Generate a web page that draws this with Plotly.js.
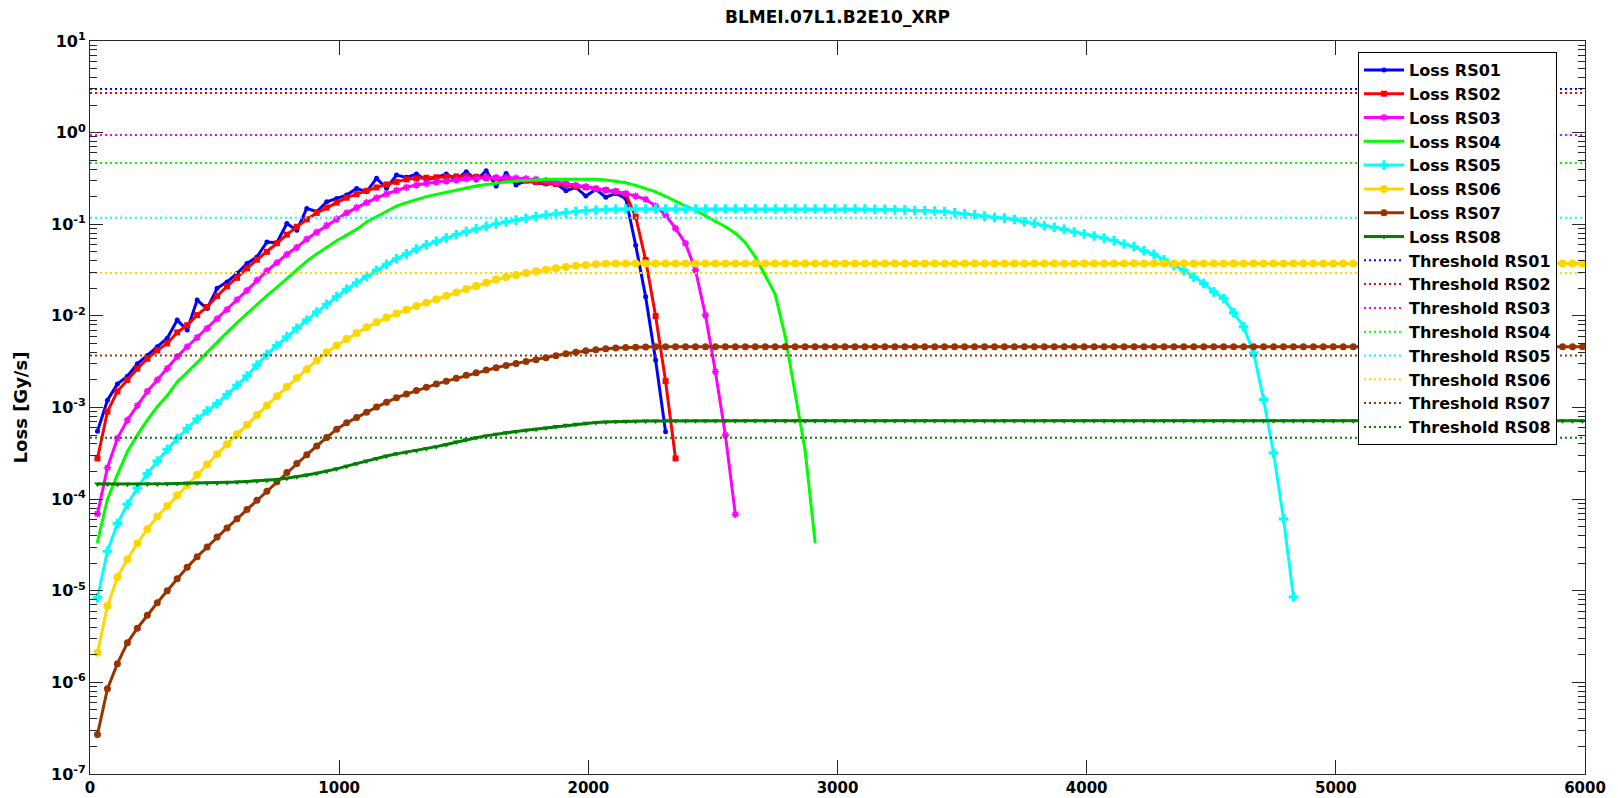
<!DOCTYPE html>
<html>
<head>
<meta charset="utf-8">
<script src="https://cdn.plot.ly/plotly-3.0.1.min.js"></script>
<style>html,body{margin:0;padding:0;background:#fff;}#chart{width:1618px;height:798px;}</style>
</head>
<body>
<div id="chart"></div>
<script>
// Sample times (x axis)
const time = [
30,70,110,150,190,230,270,310,350,390,
430,470,510,550,590,630,670,710,750,790,
830,870,910,950,990,1030,1070,1110,1150,1190,
1230,1270,1310,1350,1390,1430,1470,1510,1550,1590,
1630,1670,1710,1750,1790,1830,1870,1910,1950,1990,
2030,2070,2110,2150,2190,2230,2270,2310,2350,2390,
2430,2470,2510,2550,2590,2630,2670,2710,2750,2790,
2830,2870,2910,2950,2990,3030,3070,3110,3150,3190,
3230,3270,3310,3350,3390,3430,3470,3510,3550,3590,
3630,3670,3710,3750,3790,3830,3870,3910,3950,3990,
4030,4070,4110,4150,4190,4230,4270,4310,4350,4390,
4430,4470,4510,4550,4590,4630,4670,4710,4750,4790,
4830,4870,4910,4950,4990,5030,5070,5110,5150,5190,
5230,5270,5310,5350,5390,5430,5470,5510,5550,5590,
5630,5670,5710,5750,5790,5830,5870,5910,5950,5990];

const lossRS01 = [
5.5e-4,1.2e-3,1.8e-3,2.2e-3,3.0e-3,3.7e-3,4.6e-3,5.7e-3,9.0e-3,7.0e-3,
1.49e-2,1.2e-2,2.0e-2,2.35e-2,2.9e-2,3.73e-2,4.4e-2,6.4e-2,6.3e-2,0.102,
0.086,0.149,0.137,0.176,0.191,0.208,0.246,0.226,0.317,0.247,
0.344,0.325,0.353,0.304,0.325,0.353,0.309,0.375,0.304,0.384,
0.261,0.359,0.268,0.299,0.284,0.275,0.279,0.232,0.253,0.203,
0.240,0.197,0.217,0.192,0.059,0.0162,0.00329,5.43e-4];

const lossRS02 = [
2.78e-4,9.0e-4,1.5e-3,2.0e-3,2.65e-3,3.4e-3,4.2e-3,5.0e-3,6.6e-3,7.9e-3,
1.02e-2,1.25e-2,1.65e-2,2.1e-2,2.6e-2,3.3e-2,4.1e-2,5.0e-2,6.2e-2,7.7e-2,
9.4e-2,0.113,0.133,0.152,0.172,0.195,0.213,0.232,0.252,0.272,
0.29,0.309,0.317,0.322,0.325,0.330,0.333,0.336,0.330,0.325,
0.319,0.314,0.306,0.299,0.289,0.282,0.275,0.268,0.259,0.253,
0.244,0.236,0.228,0.214,0.121,0.0407,0.00995,0.00194,2.78e-4];

const lossRS03 = [
6.9e-5,2.2e-4,4.6e-4,7.3e-4,1.05e-3,1.5e-3,2.0e-3,2.65e-3,3.6e-3,4.6e-3,
5.8e-3,7.3e-3,9.3e-3,1.17e-2,1.5e-2,1.9e-2,2.45e-2,3.1e-2,3.8e-2,4.7e-2,
5.6e-2,6.9e-2,8.2e-2,9.7e-2,0.114,0.133,0.152,0.172,0.194,0.214,
0.234,0.253,0.268,0.279,0.289,0.296,0.304,0.312,0.317,0.319,
0.322,0.322,0.319,0.314,0.309,0.299,0.289,0.279,0.268,0.257,
0.244,0.236,0.228,0.217,0.203,0.187,0.158,0.126,0.0901,0.0618,
0.0316,0.0102,0.00246,5.0e-4,6.8e-5];

const lossRS04 = [
3.4e-5,1.0e-4,1.85e-4,3.3e-4,5.0e-4,7.3e-4,1.02e-3,1.35e-3,1.9e-3,2.4e-3,
3.1e-3,4.0e-3,5.2e-3,6.6e-3,8.4e-3,1.06e-2,1.34e-2,1.66e-2,2.05e-2,2.55e-2,
3.2e-2,3.95e-2,4.75e-2,5.6e-2,6.6e-2,7.6e-2,8.8e-2,0.106,0.121,0.138,
0.158,0.172,0.186,0.2,0.212,0.224,0.236,0.25,0.262,0.272,
0.282,0.29,0.297,0.302,0.305,0.308,0.31,0.311,0.311,0.31,
0.309,0.304,0.296,0.284,0.266,0.247,0.226,0.202,0.178,0.158,
0.142,0.124,0.107,0.094,0.08,0.063,0.044,0.028,0.0172,6.0e-3,
1.5e-3,3.4e-4,3.4e-5];

const lossRS05 = [
8.4e-6,2.7e-5,5.4e-5,8.8e-5,1.32e-4,1.9e-4,2.6e-4,3.5e-4,4.6e-4,5.9e-4,
7.5e-4,9.2e-4,1.1e-3,1.38e-3,1.75e-3,2.2e-3,2.9e-3,3.8e-3,4.75e-3,5.9e-3,
7.3e-3,9.0e-3,1.1e-2,1.34e-2,1.62e-2,1.95e-2,2.3e-2,2.7e-2,3.15e-2,3.65e-2,
4.2e-2,4.75e-2,5.35e-2,5.95e-2,6.5e-2,7.1e-2,7.7e-2,8.3e-2,8.9e-2,9.5e-2,
0.101,0.106,0.111,0.116,0.121,0.126,0.13,0.134,0.138,0.141,
0.143,0.145,0.146,0.1466,0.1466,0.1466,0.1466,0.1466,0.1466,0.1466,
0.1466,0.1466,0.1466,0.1466,0.1466,0.1466,0.1466,0.1466,0.1466,0.1466,
0.1466,0.1466,0.1466,0.1466,0.1466,0.1466,0.1466,0.1466,0.1453,0.1453,
0.1436,0.1436,0.1413,0.1405,0.1394,0.1379,0.1334,0.1301,0.1269,0.1227,
0.1186,0.1167,0.1128,0.1064,0.102,0.0963,0.0925,0.088,0.0822,0.0782,
0.0743,0.0706,0.0661,0.0608,0.0568,0.0514,0.047,0.041,0.0355,0.0315,
0.0265,0.0226,0.0183,0.0155,0.0108,0.0076,0.00395,0.00122,3.19e-4,6.1e-5,
8.55e-6];

const lossRS06 = [
2.1e-6,6.8e-6,1.4e-5,2.2e-5,3.3e-5,4.7e-5,6.45e-5,8.4e-5,1.1e-4,1.43e-4,
1.85e-4,2.39e-4,3.09e-4,3.98e-4,5.1e-4,6.5e-4,8.3e-4,1.05e-3,1.33e-3,1.68e-3,
2.1e-3,2.62e-3,3.26e-3,4.0e-3,4.75e-3,5.6e-3,6.5e-3,7.5e-3,8.5e-3,9.6e-3,
1.06e-2,1.17e-2,1.28e-2,1.39e-2,1.52e-2,1.66e-2,1.8e-2,1.96e-2,2.12e-2,2.3e-2,
2.5e-2,2.66e-2,2.8e-2,2.94e-2,3.06e-2,3.18e-2,3.3e-2,3.42e-2,3.52e-2,3.6e-2,
3.66e-2,3.7e-2,3.72e-2,3.72e-2,3.72e-2,3.72e-2,3.72e-2,3.72e-2,3.72e-2,3.72e-2,
3.72e-2,3.72e-2,3.72e-2,3.72e-2,3.72e-2,3.72e-2,3.72e-2,3.72e-2,3.72e-2,3.72e-2,
3.72e-2,3.72e-2,3.72e-2,3.72e-2,3.72e-2,3.72e-2,3.72e-2,3.72e-2,3.72e-2,3.72e-2,
3.72e-2,3.72e-2,3.72e-2,3.72e-2,3.72e-2,3.72e-2,3.72e-2,3.72e-2,3.72e-2,3.72e-2,
3.72e-2,3.72e-2,3.72e-2,3.72e-2,3.72e-2,3.72e-2,3.72e-2,3.72e-2,3.72e-2,3.72e-2,
3.72e-2,3.72e-2,3.72e-2,3.72e-2,3.72e-2,3.72e-2,3.72e-2,3.72e-2,3.72e-2,3.72e-2,
3.72e-2,3.72e-2,3.72e-2,3.72e-2,3.72e-2,3.72e-2,3.72e-2,3.72e-2,3.72e-2,3.72e-2,
3.72e-2,3.72e-2,3.72e-2,3.72e-2,3.72e-2,3.72e-2,3.72e-2,3.72e-2,3.72e-2,3.72e-2,
3.72e-2,3.72e-2,3.72e-2,3.72e-2,3.72e-2,3.72e-2,3.72e-2,3.72e-2,3.72e-2,3.72e-2,
3.72e-2,3.72e-2,3.72e-2,3.72e-2,3.72e-2,3.72e-2,3.72e-2,3.72e-2,3.72e-2,3.72e-2];

const lossRS07 = [
2.7e-7,8.5e-7,1.6e-6,2.7e-6,3.9e-6,5.4e-6,7.4e-6,1.0e-5,1.35e-5,1.8e-5,
2.35e-5,3.0e-5,3.85e-5,4.85e-5,6.1e-5,7.7e-5,9.7e-5,1.22e-4,1.55e-4,1.95e-4,
2.45e-4,3.05e-4,3.8e-4,4.7e-4,5.8e-4,6.8e-4,7.8e-4,8.9e-4,1.01e-3,1.14e-3,
1.28e-3,1.4e-3,1.53e-3,1.66e-3,1.8e-3,1.94e-3,2.08e-3,2.25e-3,2.4e-3,2.56e-3,
2.72e-3,2.88e-3,3.03e-3,3.18e-3,3.33e-3,3.5e-3,3.68e-3,3.87e-3,4.02e-3,4.15e-3,
4.27e-3,4.37e-3,4.45e-3,4.51e-3,4.55e-3,4.58e-3,4.6e-3,4.6e-3,4.6e-3,4.6e-3,
4.6e-3,4.6e-3,4.6e-3,4.6e-3,4.6e-3,4.6e-3,4.6e-3,4.6e-3,4.6e-3,4.6e-3,
4.6e-3,4.6e-3,4.6e-3,4.6e-3,4.6e-3,4.6e-3,4.6e-3,4.6e-3,4.6e-3,4.6e-3,
4.6e-3,4.6e-3,4.6e-3,4.6e-3,4.6e-3,4.6e-3,4.6e-3,4.6e-3,4.6e-3,4.6e-3,
4.6e-3,4.6e-3,4.6e-3,4.6e-3,4.6e-3,4.6e-3,4.6e-3,4.6e-3,4.6e-3,4.6e-3,
4.6e-3,4.6e-3,4.6e-3,4.6e-3,4.6e-3,4.6e-3,4.6e-3,4.6e-3,4.6e-3,4.6e-3,
4.6e-3,4.6e-3,4.6e-3,4.6e-3,4.6e-3,4.6e-3,4.6e-3,4.6e-3,4.6e-3,4.6e-3,
4.6e-3,4.6e-3,4.6e-3,4.6e-3,4.6e-3,4.6e-3,4.6e-3,4.6e-3,4.6e-3,4.6e-3,
4.6e-3,4.6e-3,4.6e-3,4.6e-3,4.6e-3,4.6e-3,4.6e-3,4.6e-3,4.6e-3,4.6e-3,
4.6e-3,4.6e-3,4.6e-3,4.6e-3,4.6e-3,4.6e-3,4.6e-3,4.6e-3,4.6e-3,4.6e-3];

const lossRS08 = [
1.46e-4,1.46e-4,1.45e-4,1.45e-4,1.45e-4,1.46e-4,1.46e-4,1.47e-4,1.48e-4,1.49e-4,
1.5e-4,1.5e-4,1.5e-4,1.52e-4,1.54e-4,1.56e-4,1.58e-4,1.61e-4,1.64e-4,1.69e-4,
1.75e-4,1.83e-4,1.92e-4,2.02e-4,2.14e-4,2.29e-4,2.45e-4,2.6e-4,2.77e-4,2.95e-4,
3.12e-4,3.25e-4,3.4e-4,3.56e-4,3.74e-4,3.95e-4,4.2e-4,4.45e-4,4.68e-4,4.9e-4,
5.1e-4,5.3e-4,5.48e-4,5.64e-4,5.8e-4,5.98e-4,6.2e-4,6.4e-4,6.58e-4,6.72e-4,
6.85e-4,6.95e-4,7.02e-4,7.07e-4,7.1e-4,7.12e-4,7.14e-4,7.15e-4,7.15e-4,7.15e-4,
7.15e-4,7.15e-4,7.15e-4,7.15e-4,7.15e-4,7.15e-4,7.15e-4,7.15e-4,7.15e-4,7.15e-4,
7.15e-4,7.15e-4,7.15e-4,7.15e-4,7.15e-4,7.15e-4,7.15e-4,7.15e-4,7.15e-4,7.15e-4,
7.15e-4,7.15e-4,7.15e-4,7.15e-4,7.15e-4,7.15e-4,7.15e-4,7.15e-4,7.15e-4,7.15e-4,
7.15e-4,7.15e-4,7.15e-4,7.15e-4,7.15e-4,7.15e-4,7.15e-4,7.15e-4,7.15e-4,7.15e-4,
7.15e-4,7.15e-4,7.15e-4,7.15e-4,7.15e-4,7.15e-4,7.15e-4,7.15e-4,7.15e-4,7.15e-4,
7.15e-4,7.15e-4,7.15e-4,7.15e-4,7.15e-4,7.15e-4,7.15e-4,7.15e-4,7.15e-4,7.15e-4,
7.15e-4,7.15e-4,7.15e-4,7.15e-4,7.15e-4,7.15e-4,7.15e-4,7.15e-4,7.15e-4,7.15e-4,
7.15e-4,7.15e-4,7.15e-4,7.15e-4,7.15e-4,7.15e-4,7.15e-4,7.15e-4,7.15e-4,7.15e-4,
7.15e-4,7.15e-4,7.15e-4,7.15e-4,7.15e-4,7.15e-4,7.15e-4,7.15e-4,7.15e-4,7.15e-4];

// Thresholds per running sum
const thresholdNames = ['RS01','RS02','RS03','RS04','RS05','RS06','RS07','RS08'];
const thresholdValues = [3.0, 2.7, 0.94, 0.466, 0.1178, 0.0294, 0.0037, 4.67e-4];
const thresholdSpan = [0, 6000];

// Tick labels
const yTickVals = [1e-7,1e-6,1e-5,1e-4,1e-3,1e-2,1e-1,1,10];
const yTickText = ['10<sup>-7</sup>','10<sup>-6</sup>','10<sup>-5</sup>','10<sup>-4</sup>','10<sup>-3</sup>','10<sup>-2</sup>','10<sup>-1</sup>','10<sup>0</sup>','10<sup>1</sup>'];
const xTickVals = [0,1000,2000,3000,4000,5000,6000];

const colors = ['#0000FF','#FF0000','#FF00FF','#00FF00','#00FFFF','#FFD700','#993300','#008000'];
const lossSeries = [lossRS01,lossRS02,lossRS03,lossRS04,lossRS05,lossRS06,lossRS07,lossRS08];
const markerStyle = [
  {symbol:'circle', size:5},
  {symbol:'square', size:6},
  {symbol:'asterisk-open', size:6, line:{width:1.6}},
  {symbol:'circle', size:3},
  {symbol:'cross', size:8},
  {symbol:'circle', size:8},
  {symbol:'circle', size:7},
  {symbol:'triangle-down', size:6}
];

const FONT = 'DejaVu Sans, Arial, sans-serif';
const traces = [];
lossSeries.forEach((vals, i) => {
  const m = Object.assign({color: colors[i]}, markerStyle[i]);
  if (m.line) m.line = Object.assign({color: colors[i]}, m.line);
  traces.push({
    type:'scatter', mode:'lines+markers',
    name:'Loss ' + thresholdNames[i],
    x: time.slice(0, vals.length), y: vals,
    line:{color: colors[i], width:3},
    marker: m
  });
});
thresholdValues.forEach((v, i) => {
  traces.push({
    type:'scatter', mode:'lines',
    name:'Threshold ' + thresholdNames[i],
    x: thresholdSpan, y: [v, v],
    line:{color: colors[i], width:2, dash:'2px,3px'}
  });
});

const minorVals = [];
for (let e = -7; e <= 0; e++) for (let m = 2; m <= 9; m++) minorVals.push(m * Math.pow(10, e));

const axisColor = '#262626';
const layout = {
  width:1618, height:798,
  margin:{l:90, r:33, t:41, b:24, pad:0},
  paper_bgcolor:'#ffffff', plot_bgcolor:'#ffffff',
  font:{family:FONT, weight:'bold', color:'#000'},
  showlegend:true,
  title:{text:'BLMEI.07L1.B2E10_XRP', font:{family:FONT, size:17, weight:'bold', color:'#000'},
         x:0.5, xref:'paper', xanchor:'center', y:1-17/798, yref:'container', yanchor:'middle'},
  xaxis:{range:[0,6000], tickmode:'array', tickvals:xTickVals,
         ticks:'inside', ticklen:14, tickwidth:1, tickcolor:axisColor,
         showline:true, linecolor:axisColor, linewidth:1, mirror:'ticks',
         showgrid:false, zeroline:false,
         tickfont:{family:FONT, size:15, weight:'bold', color:'#000'}},
  yaxis:{type:'log', range:[-7,1], tickmode:'array', tickvals:yTickVals, ticktext:yTickText,
         ticks:'inside', ticklen:13, tickwidth:1, tickcolor:axisColor,
         showline:true, linecolor:axisColor, linewidth:1, mirror:'ticks',
         showgrid:false, zeroline:false,
         minor:{tickmode:'array', tickvals:minorVals, ticks:'inside', ticklen:7, tickcolor:axisColor, showgrid:false},
         tickfont:{family:FONT, size:16, weight:'bold', color:'#000'},
         title:{text:'Loss [Gy/s]', font:{family:FONT, size:18, weight:'bold', color:'#000'}, standoff:18}},
  legend:{x:(1358-90)/1495, y:(774-52)/733, xanchor:'left', yanchor:'top',
          bgcolor:'#ffffff', bordercolor:'#000000', borderwidth:1,
          font:{family:FONT, size:16, weight:'bold', color:'#000'},
          tracegroupgap:0, itemwidth:40, traceorder:'normal'}
};

Plotly.newPlot('chart', traces, layout, {displayModeBar:false, staticPlot:true});
</script>
</body>
</html>
